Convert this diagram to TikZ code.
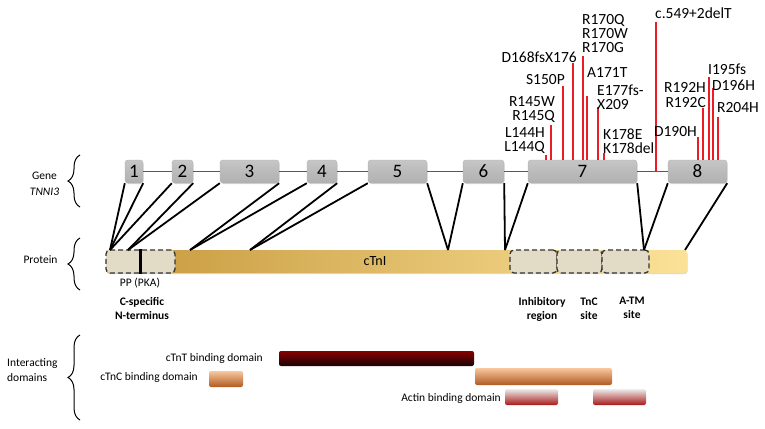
\documentclass[tikz,border=0pt]{standalone}
\usepackage{fontspec}
\setmainfont{Carlito}
\usetikzlibrary{decorations.pathreplacing,shadows}
\definecolor{goldD}{RGB}{198,152,60}
\definecolor{goldL}{RGB}{251,226,152}
\definecolor{beige}{RGB}{226,219,198}
\definecolor{mutred}{RGB}{236,28,36}
\definecolor{tntTop}{RGB}{135,0,0}
\definecolor{tntBot}{RGB}{25,5,5}
\definecolor{tncTop}{RGB}{248,200,160}
\definecolor{tncBot}{RGB}{176,90,32}
\definecolor{actTop}{RGB}{236,236,236}
\definecolor{actBot}{RGB}{168,24,24}
\lineskiplimit=-20pt
\begin{document}
\begin{tikzpicture}[x=1pt,y=-1pt,
    exon/.style={rounded corners=3pt, top color=gray!45, bottom color=gray!62, draw=gray!62,
      inner sep=0pt, minimum height=23pt, font=\fontsize{19}{19}\selectfont,
      drop shadow={shadow xshift=0.6pt,shadow yshift=-1pt,opacity=0.3}},
    intron/.style={draw=black!65, line width=1.5pt},
    link/.style={line width=1.8pt},
    mut/.style={draw=mutred, line width=1.8pt},
    mutlabel/.style={inner sep=0pt, font=\fontsize{15.5}{14}\selectfont},
    protbar/.style={rounded corners=3pt, left color=goldD, right color=goldL, inner sep=0pt,
      minimum height=23pt, drop shadow={shadow xshift=0.6pt,shadow yshift=-1pt,opacity=0.3}},
    region/.style={draw=black!80, dash pattern=on 5pt off 3pt, line width=1.3pt, rounded corners=4pt,
      fill=beige, inner sep=0pt, minimum height=23pt},
    lab/.style={inner sep=0pt, font=\fontsize{11.5}{16}\selectfont},
    boldlab/.style={inner sep=0pt, align=center, font=\fontsize{11.5}{14}\selectfont\bfseries},
    dombar/.style={rounded corners=2pt, inner sep=0pt},
    brc/.style={decorate, decoration={brace, amplitude=12pt}, line width=1pt}
  ]
    \useasboundingbox (0,0) rectangle (765,428);

    % gene
    \node[exon, minimum width=18pt] (e1) at (134,171.5) {1};
    \node[exon, minimum width=21pt] (e2) at (182.5,171.5) {2};
    \node[exon, minimum width=59pt] (e3) at (249.5,171.5) {3};
    \node[exon, minimum width=30pt] (e4) at (322,171.5) {4};
    \node[exon, minimum width=59pt] (e5) at (397.5,171.5) {5};
    \node[exon, minimum width=41pt] (e6) at (483.5,171.5) {6};
    \node[exon, minimum width=109pt] (e7) at (582.5,171.5) {7};
    \node[exon, minimum width=59pt] (e8) at (697.5,171.5) {8};
    \draw[intron] (e1) -- (e2);
    \draw[intron] (e2) -- (e3);
    \draw[intron] (e3) -- (e4);
    \draw[intron] (e4) -- (e5);
    \draw[intron] (e5) -- (e6);
    \draw[intron] (e6) -- (e7);
    \draw[intron] (e7) -- (e8);

    % mutations
    \draw[mut] (546,160) -- (546,155);
    \draw[mut] (551,160) -- (551,125);
    \draw[mut] (563,160) -- (563,86);
    \draw[mut] (573,160) -- (573,63);
    \draw[mut] (583,160) -- (583,56);
    \draw[mut] (587,160) -- (587,96);
    \draw[mut] (598,160) -- (598,107);
    \draw[mut] (604,160) -- (604,153);
    \draw[mut] (656,172) -- (656,22);
    \draw[mut] (698,160) -- (698,137);
    \draw[mut] (703,160) -- (703,108);
    \draw[mut] (709,160) -- (709,77);
    \draw[mut] (713,160) -- (713,88);
    \draw[mut] (718,160) -- (718,117);
    \node[mutlabel, anchor=west] (m549) at (655,13) {c.549+2delT};
    \node[mutlabel, anchor=west, align=left] (m170) at (582,34) {R170Q\\R170W\\R170G};
    \node[mutlabel, anchor=east] (m168) at (577,57) {D168fsX176};
    \node[mutlabel, anchor=east] (m150) at (565,80) {S150P};
    \node[mutlabel, anchor=west] (m171) at (587,73) {A171T};
    \node[mutlabel, anchor=west, align=left] (m177) at (597,97) {E177fs-\\X209};
    \node[mutlabel, anchor=east, align=right] (m145) at (555,110) {R145W\\R145Q};
    \node[mutlabel, anchor=east, align=right] (m144) at (545,141) {L144H\\L144Q};
    \node[mutlabel, anchor=west, align=left] (m178) at (603,141) {K178E\\K178del};
    \node[mutlabel, anchor=east] (m190) at (697,132) {D190H};
    \node[mutlabel, anchor=east, align=right, font=\fontsize{15.5}{15}\selectfont] (m192) at (706,95) {R192H\\R192C};
    \node[mutlabel, anchor=west] (m195) at (708,69) {I195fs};
    \node[mutlabel, anchor=west] (m196) at (712,85.5) {D196H};
    \node[mutlabel, anchor=west] (m204) at (717,108) {R204H};

    % protein
    \node[protbar, minimum width=581pt] (prot) at (396.5,261.5) {};
    \node[region, minimum width=69pt] (nterm) at (140.5,261.5) {};
    \node[region, minimum width=47pt] (inhib) at (533.5,261.5) {};
    \node[region, minimum width=45pt] (tnc) at (579.5,261.5) {};
    \node[region, minimum width=47pt] (atm) at (625.5,261.5) {};
    \draw[line width=3pt] (nterm.north) -- (nterm.south);
    \node[lab, font=\fontsize{14}{14}\selectfont] (ctni) at (375,261) {cTnI};
    \node[lab] (pka) at (140,283) {PP (PKA)};
    \node[boldlab] (nlab) at (142,308) {C-specific\\N-terminus};
    \node[boldlab] (ilab) at (542,309) {Inhibitory\\region};
    \node[boldlab] (tlab) at (589,309) {TnC\\site};
    \node[boldlab] (alab) at (632,308) {A-TM\\site};

    % exon to protein
    \coordinate (pA) at (110,250);
    \coordinate (pB) at (128,250);
    \coordinate (pC) at (190,250);
    \coordinate (pD) at (250,250);
    \coordinate (pE) at (448,250);
    \coordinate (pF) at (505,250);
    \coordinate (pG) at (644,250);
    \coordinate (pH) at (685,250);
    \draw[link] (e1.south west) -- (pA);
    \draw[link] (e1.south east) -- (pA);
    \draw[link] (e2.south west) -- (pA);
    \draw[link] (e2.south east) -- (pB);
    \draw[link] (e3.south west) -- (pB);
    \draw[link] (e3.south east) -- (pC);
    \draw[link] (e4.south west) -- (pC);
    \draw[link] (e4.south east) -- (pD);
    \draw[link] (e5.south west) -- (pD);
    \draw[link] (e5.south east) -- (pE);
    \draw[link] (e6.south west) -- (pE);
    \draw[link] (e6.south east) -- (pF);
    \draw[link] (e7.south west) -- (pF);
    \draw[link] (e7.south east) -- (pG);
    \draw[link] (e8.south west) -- (pG);
    \draw[link] (e8.south east) -- (pH);

    % interacting domains
    \node[dombar, top color=tntTop, bottom color=tntBot, minimum width=195pt, minimum height=15pt] (tnt1) at (376.5,358.5) {};
    \node[dombar, top color=tncTop, bottom color=tncBot, minimum width=34pt, minimum height=16pt] (tnc1) at (226,379) {};
    \node[dombar, top color=tncTop, bottom color=tncBot, minimum width=137pt, minimum height=17pt] (tnc2) at (543.5,376.5) {};
    \node[dombar, top color=actTop, bottom color=actBot, minimum width=53pt, minimum height=16pt] (act1) at (531.5,397) {};
    \node[dombar, top color=actTop, bottom color=actBot, minimum width=53pt, minimum height=16pt] (act2) at (619.5,397) {};
    \node[lab, anchor=east] (tntlab) at (263,358) {cTnT binding domain};
    \node[lab, anchor=east] (tnclab) at (198,377) {cTnC binding domain};
    \node[lab, anchor=east] (actlab) at (501,398) {Actin binding domain};

    % row labels
    \node[lab, align=center] (gene) at (44.5,184) {Gene\\\textit{TNNI3}};
    \node[lab] (protlab) at (40.5,260) {Protein};
    \node[lab, anchor=west, align=left, font=\fontsize{11.5}{15}\selectfont] (intlab) at (7,370.5) {Interacting\\domains};
    \draw[brc] (80,207) -- (80,155);
    \draw[brc] (80,290) -- (80,238);
    \draw[brc] (80,420) -- (80,335);
  \end{tikzpicture}
\end{document}
